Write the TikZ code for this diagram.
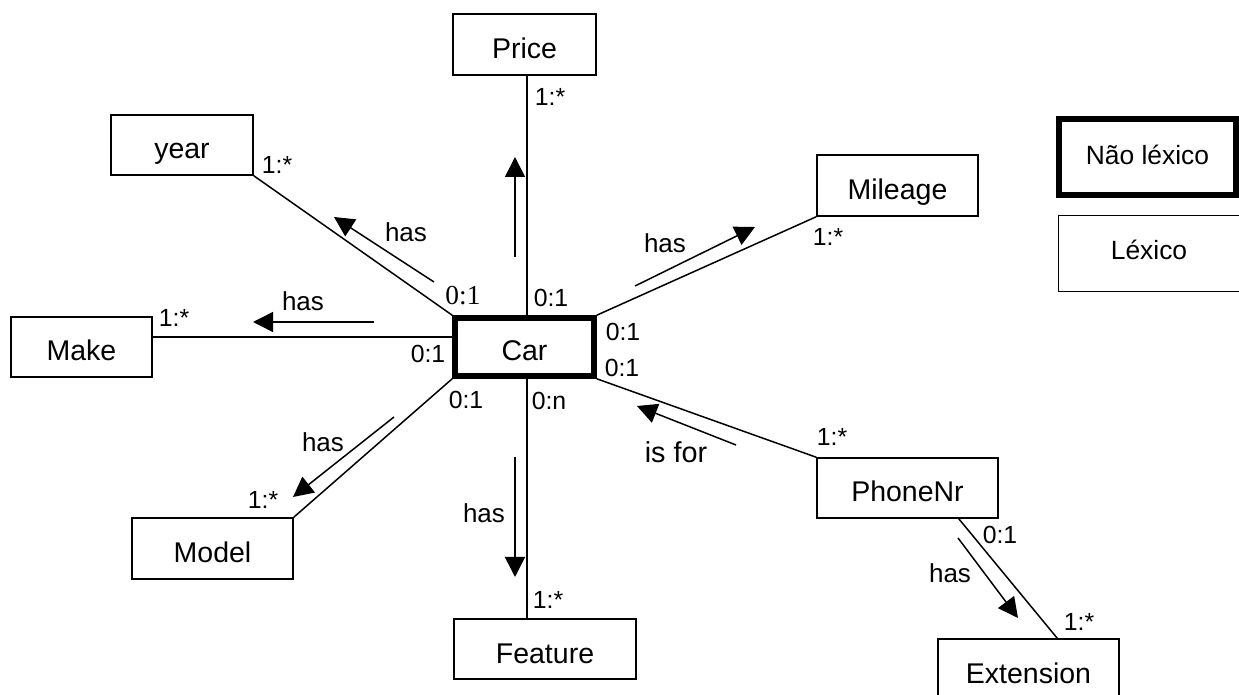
\documentclass[tikz,border=0pt]{standalone}
\usepackage{fontspec}
\setmainfont{Liberation Sans}
\newfontfamily\timesfont{Liberation Serif}
\usetikzlibrary{arrows.meta,calc}
\tikzset{
  sz/.style 2 args={minimum width=#1*0.5pt,minimum height=#2*0.5pt},
  entity/.style={draw,line width=0.75pt,inner sep=0pt,text height=14pt,text depth=0pt,
    font=\fontsize{14.25}{16}\selectfont},
  nonlex/.style={entity,line width=2.8pt},
  legendbox/.style={draw,inner sep=0pt,text depth=0pt,font=\fontsize{13.2}{15}\selectfont},
  link/.style={line width=0.75pt},
  dirarrow/.style={line width=0.75pt,-{Triangle[length=10pt,width=10pt]}},
  card/.style={inner sep=0pt,font=\fontsize{12.4}{14}\selectfont},
  cardserif/.style={inner sep=0pt,font=\timesfont\fontsize{13.7}{15}\selectfont},
  rel/.style={inner sep=0pt,font=\fontsize{13}{15}\selectfont},
  relbig/.style={inner sep=0pt,font=\fontsize{14.4}{16}\selectfont}
}
\begin{document}
\begin{tikzpicture}[x=0.5pt,y=-0.5pt]
\useasboundingbox (0,0) rectangle (1239,695);

% entities
\node[nonlex,sz={139}{58}] (Car) at (524.5,347) {Car};
\node[entity,sz={143}{61}] (Price) at (524.5,44.5) {Price};
\node[entity,sz={142}{60}] (Year) at (182,145) {year};
\node[entity,sz={161}{61}] (Mileage) at (897.5,185.5) {Mileage};
\node[entity,sz={141}{60}] (Make) at (81.5,347) {Make};
\node[entity,sz={161}{61}] (Model) at (212.5,548.5) {Model};
\node[entity,sz={182}{60}] (Feature) at (545,649) {Feature};
\node[entity,sz={181}{60}] (Phone) at (907.5,488) {PhoneNr};
\node[entity,sz={181}{61}] (Ext) at (1028.5,669.5) {Extension};

% legend
\node[legendbox,line width=2.8pt,text height=8pt,sz={177}{76}] (LegNon) at (1147.5,157) {Não léxico};
\node[legendbox,line width=0.5pt,text height=6pt,sz={182}{76}] (LegLex) at (1149,254) {Léxico};

% helper coordinates for straight runs
\coordinate (axis) at (527,347);
\coordinate (makerow) at (300,337);

% connectors
\draw[link] (Car.north -| axis) -- (Price.south -| axis);
\draw[link] (Car.south -| axis) -- (Feature.north -| axis);
\draw[link] (Car.north west) -- (Year.south east);
\draw[link] (Car.north east) -- (Mileage.south west);
\draw[link] (Car.west |- makerow) -- (Make.east |- makerow);
\draw[link] (Car.south west) -- (Model.north east);
\draw[link] (Car.south east) -- (Phone.north west);
\draw[link] ($(Phone.south east)+(-40,0)$) -- ($(Ext.north west)+(120,0)$);

% reading direction arrows
\draw[dirarrow] (434,282) -- (334,217);
\draw[dirarrow] (515,257) -- (515,157);
\draw[dirarrow] (635,286) -- (755,227);
\draw[dirarrow] (374,322) -- (253,322);
\draw[dirarrow] (394,417) -- (293,497);
\draw[dirarrow] (515,457) -- (515,577);
\draw[dirarrow] (736,445) -- (637,406);
\draw[dirarrow] (958,538) -- (1018,618);

% relationship names
\node[rel] (rYear) at (406,232) {has};
\node[rel] (rMileage) at (665,243) {has};
\node[rel] (rMake) at (303,301) {has};
\node[rel] (rModel) at (323,442) {has};
\node[rel] (rFeature) at (484,513) {has};
\node[rel] (rExt) at (950,573) {has};
\node[relbig] (rPhone) at (676,452) {is for};

% cardinalities
\node[card] (cPrice1) at (550,97) {1:*};
\node[card] (cPrice0) at (551,298) {0:1};
\node[card] (cYear1) at (277,165) {1:*};
\node[cardserif] (cYear0) at (463,296) {0:1};
\node[card] (cMil1) at (828,237) {1:*};
\node[card] (cMil0) at (623,332) {0:1};
\node[card] (cPhone0) at (622,368) {0:1};
\node[card] (cMake1) at (174,318) {1:*};
\node[card] (cMake0) at (428,354) {0:1};
\node[card] (cModel0) at (466,400) {0:1};
\node[card] (cModel1) at (263,500) {1:*};
\node[card] (cFeat0) at (549,401) {0:n};
\node[card] (cFeat1) at (548,600) {1:*};
\node[card] (cPhone1) at (832,437) {1:*};
\node[card] (cExt0) at (1000,535) {0:1};
\node[card] (cExt1) at (1079,622) {1:*};
\end{tikzpicture}
\end{document}
